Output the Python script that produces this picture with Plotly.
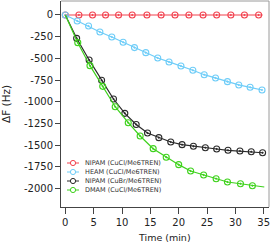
import plotly.graph_objects as go

# ---------------- data ----------------
series_names = [
    "NIPAM (CuCl/Me6TREN)",
    "HEAM (CuCl/Me6TREN)",
    "NIPAM (CuBr/Me6TREN)",
    "DMAM (CuCl/Me6TREN)",
]

# NIPAM (CuCl/Me6TREN)
nipam_cucl_t = [0, 2.4, 4.8, 7.1, 9.4, 11.8, 14.4, 16.9, 19.35, 21.8, 24.3, 26.7, 29.2, 31.6, 34.1, 34.8]
nipam_cucl_v = [0, 0, 0, 0, 0, 0, 0, 0, 0, 0, 0, 0, 0, 0, 0, 0]

# HEAM (CuCl/Me6TREN)
heam_t = [0, 2.1, 4.1, 6.1, 8.2, 10.2, 12.2, 14.2, 16.3, 18.3, 20.4, 22.5, 24.5, 26.5, 28.6, 30.6, 32.6, 34.7]
heam_v = [0, -70, -127, -196, -253, -315, -376, -434, -495, -541, -587, -637, -688, -726, -768, -806, -833, -864]

# NIPAM (CuBr/Me6TREN)
nipam_cubr_t = [0, 2.0, 4.2, 6.4, 8.5, 10.5, 12.5, 14.5, 16.5, 18.6, 20.6, 22.6, 24.7, 26.7, 28.7, 30.8, 32.8, 34.8]
nipam_cubr_v = [0, -269, -518, -752, -968, -1133, -1262, -1360, -1413, -1463, -1494, -1513, -1529, -1544, -1559, -1567, -1575, -1587]

# DMAM (CuCl/Me6TREN)
dmam_t = [0, 2.2, 4.35, 6.6, 8.8, 11.1, 13.2, 15.5, 17.8, 20.0, 22.1, 24.4, 26.6, 28.6, 30.9, 33.0, 35.1]
dmam_v = [0, -319, -584, -822, -1057, -1241, -1394, -1540, -1639, -1724, -1797, -1843, -1886, -1924, -1944, -1967, -1982]

# which points of each curve carry a marker (slice start, slice end)
marker_slices = [(0, -1), (0, None), (1, None), (1, -1)]

x_tickvals = [0, 5, 10, 15, 20, 25, 30, 35]
y_tickvals = [0, -250, -500, -750, -1000, -1250, -1500, -1750, -2000]
y_ticktext = ["0", "-250", "-500", "-750", "-1000", "-1250", "-1500", "-1750", "-2000"]

# ---------------- styling ----------------
colors = ["#f2424f", "#6fcdf8", "#2a2a2a", "#3ed21c"]
FONT = "DejaVu Sans"
W, H = 272, 245
ML, MR, MT, MB = 61, 3, 1, 38
PW, PH = W - ML - MR, H - MT - MB

all_t = [nipam_cucl_t, heam_t, nipam_cubr_t, dmam_t]
all_v = [nipam_cucl_v, heam_v, nipam_cubr_v, dmam_v]

fig = go.Figure()
for name, t, v, c, (s0, s1) in zip(series_names, all_t, all_v, colors, marker_slices):
    fig.add_trace(go.Scatter(
        x=t, y=v, mode="lines", line=dict(color=c, width=1.2),
        showlegend=False, hoverinfo="skip"))
    fig.add_trace(go.Scatter(
        x=t[s0:s1], y=v[s0:s1], mode="markers", name=name,
        marker=dict(symbol="circle-open-dot", size=6, color=c, line=dict(color=c, width=1.1)),
        showlegend=False))

def px_x(px):
    return (px - ML) / PW

def px_y(py):
    return (MT + PH - py) / PH

shapes = []
annotations = []
# frame (top & right)
shapes.append(dict(type="line", xref="paper", yref="paper", x0=0, x1=1, y0=1, y1=1,
                   line=dict(color="#9a9a9a", width=1)))
shapes.append(dict(type="line", xref="paper", yref="paper", x0=1, x1=1, y0=0, y1=1,
                   line=dict(color="#9a9a9a", width=1)))

# manual legend
leg_rows = [163, 172, 181, 190]
for name, c, ry in zip(series_names, colors, leg_rows):
    yy = px_y(ry)
    shapes.append(dict(type="line", xref="paper", yref="paper",
                       x0=px_x(67), x1=px_x(79), y0=yy, y1=yy,
                       line=dict(color=c, width=1)))
    shapes.append(dict(type="circle", xref="paper", yref="paper",
                       xsizemode="pixel", ysizemode="pixel",
                       xanchor=px_x(73), yanchor=yy,
                       x0=-2.6, x1=2.6, y0=-2.6, y1=2.6,
                       fillcolor="white", line=dict(color=c, width=1)))
    annotations.append(dict(text=name, xref="paper", yref="paper",
                            x=px_x(83), y=yy, xanchor="left", yanchor="middle",
                            showarrow=False, font=dict(family=FONT, size=6.5, color="#333333")))

# axis titles
annotations.append(dict(text="Time (min)", xref="paper", yref="paper",
                        x=px_x(164.5), y=px_y(237), xanchor="center", yanchor="middle",
                        showarrow=False, font=dict(family=FONT, size=9.5, color="#222222")))
annotations.append(dict(text="ΔF (Hz)", xref="paper", yref="paper",
                        x=px_x(6), y=px_y(104), xanchor="center", yanchor="middle",
                        textangle=-90, showarrow=False,
                        font=dict(family=FONT, size=10.5, color="#222222")))

fig.update_layout(
    width=W, height=H,
    margin=dict(l=ML, r=MR, t=MT, b=MB, pad=0),
    paper_bgcolor="white", plot_bgcolor="white",
    showlegend=False,
    font=dict(family=FONT, size=9.5, color="#222222"),
    shapes=shapes, annotations=annotations,
    xaxis=dict(range=[-0.76, 35.93], tickvals=x_tickvals, ticks="outside", ticklen=6,
               tickcolor="#444444", showline=True, linecolor="#444444", linewidth=1,
               showgrid=False, zeroline=False, tickfont=dict(family=FONT, size=10)),
    yaxis=dict(range=[-2212, 161], tickvals=y_tickvals, ticktext=y_ticktext,
               ticks="outside", ticklen=5,
               tickcolor="#444444", showline=True, linecolor="#444444", linewidth=1,
               showgrid=False, zeroline=False, tickfont=dict(family=FONT, size=10)),
)

fig.write_html("out.html", config={"displayModeBar": False})

# remove the default page margin so the figure sits at the window's top-left corner
with open("out.html", "r", encoding="utf-8") as f:
    html = f.read()
html = html.replace("<body>", '<body style="margin:0;padding:0;overflow:hidden">', 1)
with open("out.html", "w", encoding="utf-8") as f:
    f.write(html)
